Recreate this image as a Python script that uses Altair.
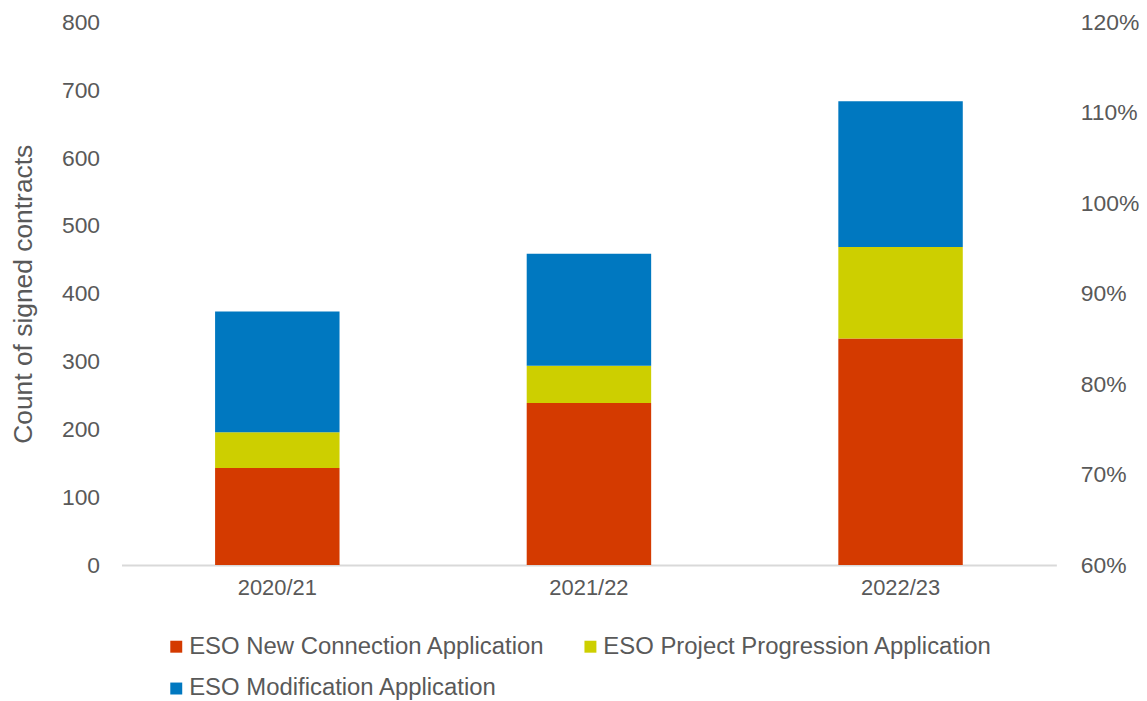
import altair as alt
import pandas as pd

years = ["2020/21", "2021/22", "2022/23"]
series = ["ESO New Connection Application", "ESO Project Progression Application", "ESO Modification Application"]
new_conn = [143, 239, 334]
proj_prog = [53, 55, 135]
modif = [178, 165, 215]
colors = ["#D43A00", "#CDCF00", "#0078C0"]
pct_ticks = [0.6, 0.7, 0.8, 0.9, 1.0, 1.1, 1.2]

rows = []
for i, y in enumerate(years):
    for k, (s, vals) in enumerate(zip(series, [new_conn, proj_prog, modif])):
        rows.append({"year": y, "series": s, "value": vals[i], "ord": k})
df = pd.DataFrame(rows)

# legend fills column-major: order so that rows read New, Project / Modification
legend_order = [series[0], series[2], series[1]]
legend_colors = [colors[0], colors[2], colors[1]]

FONT = "Liberation Sans"
GREY = "#595959"

bars = alt.Chart(df).mark_bar(size=125).encode(
    x=alt.X("year:N", sort=years, title=None,
            scale=alt.Scale(paddingInner=0.6, paddingOuter=0.3),
            axis=alt.Axis(labelAngle=0, labelFontSize=22, labelColor=GREY, labelFont=FONT,
                          ticks=False, domainColor="#D9D9D9", domainWidth=2, labelPadding=13)),
    y=alt.Y("value:Q", title="Count of signed contracts", stack="zero",
            scale=alt.Scale(domain=[0, 800], nice=False),
            axis=alt.Axis(values=[0, 100, 200, 300, 400, 500, 600, 700, 800], grid=False, domain=False,
                          ticks=False, labelFontSize=23, labelColor=GREY, labelFont=FONT,
                          titleFontSize=26.5, titleFontWeight="normal", titleColor=GREY, titleFont=FONT,
                          labelPadding=22, titlePadding=24)),
    color=alt.Color("series:N", scale=alt.Scale(domain=legend_order, range=legend_colors),
                    legend=alt.Legend(title=None, orient="none", legendX=43, legendY=615,
                                      columns=2, symbolType="square", symbolSize=144,
                                      labelFontSize=24, labelColor=GREY, labelFont=FONT,
                                      labelOffset=1, columnPadding=33, rowPadding=18,
                                      symbolStrokeWidth=0, labelLimit=500)),
    order=alt.Order("ord:Q", sort="ascending"),
)

pdf = pd.DataFrame({"pct": [pct_ticks[0], pct_ticks[-1]]})
right = alt.Chart(pdf).mark_point(opacity=0).encode(
    y=alt.Y("pct:Q", title=None,
            scale=alt.Scale(domain=[pct_ticks[0], pct_ticks[-1]], nice=False, zero=False),
            axis=alt.Axis(orient="right", values=pct_ticks, format=".0%", grid=False, domain=False,
                          ticks=False, labelFontSize=23, labelColor=GREY, labelFont=FONT,
                          labelPadding=24)),
)

chart = alt.layer(bars, right).resolve_scale(y="independent").properties(
    width=939, height=545, padding={"left": 2, "top": 2, "right": 0, "bottom": 0}
).configure_view(stroke=None)

chart.save("out.html", embed_options={"renderer": "svg", "actions": False})
